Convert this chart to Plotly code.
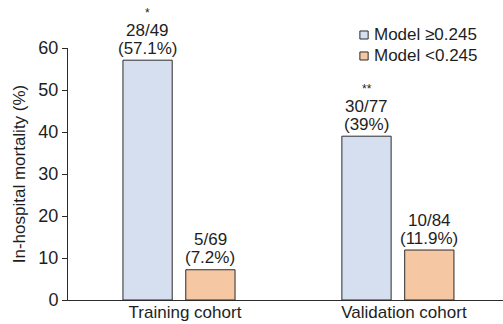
import plotly.graph_objects as go

# Cohorts and in-hospital mortality by model score group
cohorts = ["Training cohort", "Validation cohort"]
high_pct = [57.1, 39.0]
low_pct = [7.2, 11.9]
high_counts = ["28/49", "30/77"]
low_counts = ["5/69", "10/84"]
high_pct_labels = ["(57.1%)", "(39%)"]
low_pct_labels = ["(7.2%)", "(11.9%)"]
significance = ["*", "**"]
series_names = ["Model ≥0.245", "Model <0.245"]
y_ticks = [0, 10, 20, 30, 40, 50, 60]

BLUE = "#d5dff0"
ORANGE = "#f6c7a3"
EDGE = "#2b2b2b"
TXT = "#1e1e1e"
FONT = "Liberation Sans, Arial, sans-serif"

bar_w = 0.225
off_high = -0.256
off_low = 0.031

fig = go.Figure()
fig.add_trace(go.Bar(
    x=cohorts, y=high_pct, name=series_names[0],
    width=bar_w, offset=off_high,
    marker=dict(color=BLUE, line=dict(color=EDGE, width=1)),
))
fig.add_trace(go.Bar(
    x=cohorts, y=low_pct, name=series_names[1],
    width=bar_w, offset=off_low,
    marker=dict(color=ORANGE, line=dict(color=EDGE, width=1)),
))


def label(x, y, text, shift, size=17):
    return dict(x=x, y=y, xref="x", yref="y", text=text, showarrow=False,
                yanchor="middle", yshift=shift,
                font=dict(size=size, color=TXT, family=FONT))


annotations = []
for i in range(len(cohorts)):
    xh = i + off_high + bar_w / 2
    xl = i + off_low + bar_w / 2
    annotations.append(label(xh, high_pct[i], high_pct_labels[i], 12))
    annotations.append(label(xh, high_pct[i], high_counts[i], 30))
    annotations.append(label(xh, high_pct[i], significance[i], 47, size=12))
    annotations.append(label(xl, low_pct[i], low_pct_labels[i], 12))
    annotations.append(label(xl, low_pct[i], low_counts[i], 30))

# Compact legend: small square swatch followed by the series name
shapes = []
legend_rows = [1.0516, 0.9683]
for name, col, yc in zip(series_names, [BLUE, ORANGE], legend_rows):
    shapes.append(dict(
        type="rect", xref="paper", yref="paper",
        x0=0.671, x1=0.690, y0=yc - 0.0159, y1=yc + 0.0159,
        fillcolor=col, line=dict(color=EDGE, width=1),
    ))
    annotations.append(dict(
        x=0.699, y=yc, xref="paper", yref="paper", text=name,
        showarrow=False, xanchor="left", yanchor="middle",
        font=dict(size=17, color=TXT, family=FONT),
    ))

fig.update_layout(
    width=503, height=324,
    margin=dict(l=68, r=0, t=48, b=24),
    paper_bgcolor="white", plot_bgcolor="white",
    barmode="overlay",
    font=dict(family=FONT, size=17, color=TXT),
    showlegend=False,
    annotations=annotations,
    shapes=shapes,
    xaxis=dict(
        range=[-0.507, 1.48], showline=True, linecolor=EDGE, linewidth=1,
        ticks="", showgrid=False, zeroline=False, ticklabelshift=6,
        ticklabelstandoff=-3, automargin=False,
        tickfont=dict(size=17, color=TXT, family=FONT),
    ),
    yaxis=dict(
        range=[0, 60], tickvals=y_ticks, showline=True, linecolor=EDGE, linewidth=1,
        ticks="outside", ticklen=5, tickcolor=EDGE, showgrid=False, zeroline=False,
        automargin=False,
        tickfont=dict(size=18, color=TXT, family=FONT),
        title=dict(text="In-hospital mortality (%)", standoff=8,
                   font=dict(size=17, color=TXT, family=FONT)),
    ),
)

fig.write_html("out.html")
